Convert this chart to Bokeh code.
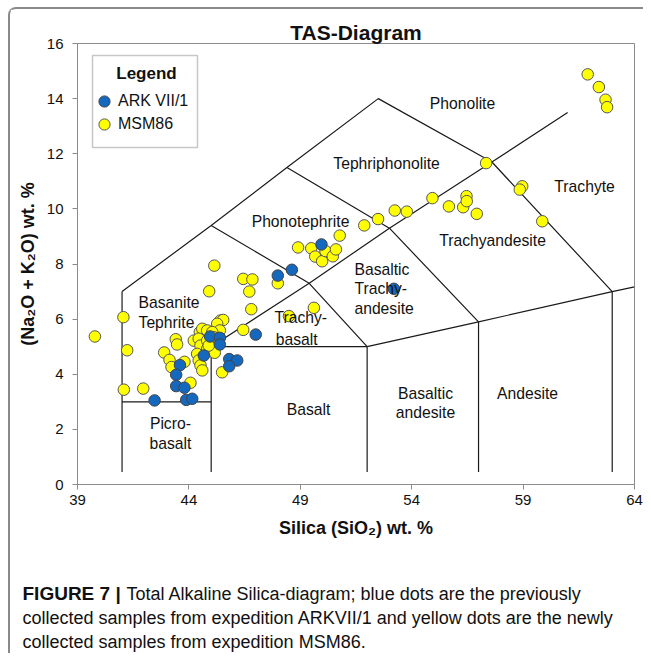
from bokeh.plotting import figure
from bokeh.layouts import column
from bokeh.models import (Label, Legend, LegendItem, Range1d, FixedTicker,
                          BoxAnnotation)
from bokeh.core.properties import value
from bokeh.embed import file_html
from bokeh.resources import INLINE

# ---------------- data ----------------
x_ticks = [39, 44, 49, 54, 59, 64]
y_ticks = [0, 2, 4, 6, 8, 10, 12, 14, 16]

ark_x = [44.95, 45.39, 45.39, 44.67, 47.00, 45.81, 46.17, 45.81, 43.60, 43.43,
         43.43, 43.80, 42.46, 43.88, 44.15, 49.95, 48.62, 47.99, 53.20]
ark_y = [5.37, 5.32, 5.08, 4.68, 5.44, 4.55, 4.50, 4.29, 4.33, 3.98,
         3.57, 3.51, 3.05, 3.07, 3.11, 8.71, 7.79, 7.58, 7.10]

msm_x = [39.78, 41.06, 41.23, 41.08, 41.95, 45.14, 44.91, 43.41, 43.47, 42.89,
         43.13, 43.22, 43.80, 44.07, 46.44, 46.85, 46.71, 46.80, 46.44, 45.49,
         45.42, 45.54, 45.27, 45.39, 44.49, 44.60, 44.82, 45.05, 44.22, 44.44,
         44.52, 44.82, 45.12, 45.27, 44.82, 45.05, 45.16, 44.37, 44.44, 44.52,
         44.60, 44.89,
         47.99, 49.61, 48.49,
         57.34, 58.96, 58.85, 59.86, 54.93, 55.67, 56.31, 56.46, 56.47, 56.92,
         53.24, 53.78, 52.49, 51.87, 50.77, 48.90, 49.49, 49.67, 49.98, 50.13,
         50.46, 50.60,
         61.90, 62.40, 62.70, 62.77]
msm_y = [5.37, 6.07, 4.87, 3.44, 3.48, 7.94, 7.01, 5.27, 5.08, 4.79,
         4.52, 4.26, 4.45, 3.69, 7.46, 7.44, 7.00, 6.36, 5.61, 4.07,
         5.95, 5.97, 5.83, 5.59, 5.53, 5.65, 5.59, 5.53, 5.22, 5.29,
         5.04, 5.22, 5.34, 5.29, 4.92, 4.98, 4.78, 4.74, 4.50, 4.32,
         4.14, 5.04,
         7.30, 6.41, 6.11,
         11.66, 10.82, 10.70, 9.55, 10.39, 10.09, 10.06, 10.46, 10.28, 9.82,
         9.94, 9.90, 9.63, 9.40, 9.03, 8.60, 8.57, 8.27, 8.10, 8.47,
         8.28, 8.53,
         14.88, 14.42, 13.96, 13.69]

# TAS field boundaries (Le Bas et al.)
tas_xs = [[41, 41], [41, 45], [45, 45], [45, 52], [52, 52],
          [52, 57, 63, 64], [57, 57], [63, 63],
          [45, 49.4, 53, 57.6, 61],
          [52, 49.4, 45],
          [41, 45, 48.4, 52.5, 57.6, 63],
          [57, 53, 48.4]]
tas_ys = [[0.45, 7], [3, 3], [0.45, 5], [5, 5], [0.45, 5],
          [5, 5.9, 7, 7.17], [0.45, 5.9], [0.45, 7],
          [5, 7.3, 9.3, 11.7, 13.5],
          [5, 7.3, 9.4],
          [7, 9.4, 11.5, 14, 11.7, 7],
          [5.9, 9.3, 11.5]]

field_text = ["Phonolite", "Tephriphonolite", "Trachyte", "Phonotephrite",
              "Trachyandesite", "Basaltic", "Trachy-", "andesite",
              "Basanite", "Tephrite", "Trachy-", "basalt", "Picro-", "basalt",
              "Basalt", "Basaltic", "andesite", "Andesite"]
field_x = [56.28, 52.87, 61.76, 49.01, 57.63, 51.43, 51.43, 51.43,
           41.74, 41.74, 47.84, 47.90, 43.17, 43.17,
           49.37, 54.62, 54.62, 59.20]
field_y = [13.82, 11.65, 10.81, 9.55, 8.85, 7.80, 7.11, 6.39,
           6.60, 5.88, 6.06, 5.26, 2.21, 1.49,
           2.72, 3.30, 2.61, 3.30]
field_align = ["center"] * 5 + ["left"] * 7 + ["center"] * 6

caption_bold = "FIGURE 7 |"
caption_lines = ["Total Alkaline Silica-diagram; blue dots are the previously",
                 "collected samples from expedition ARKVII/1 and yellow dots are the newly",
                 "collected samples from expedition MSM86."]

FONT = "Liberation Sans"
GRAY = "#8c8c8c"
W = 633

# ---------------- main figure ----------------
p = figure(width=W, height=540, output_backend="svg", toolbar_location=None,
           x_range=Range1d(39, 64), y_range=Range1d(0, 16),
           min_border_left=67, min_border_right=9, min_border_top=34,
           min_border_bottom=65, title="TAS-Diagram")
p.frame_align = False
p.background_fill_color = "white"
p.border_fill_color = "white"
p.outline_line_color = GRAY
p.outline_line_width = 1
p.xgrid.visible = False
p.ygrid.visible = False

p.title.text_font = FONT
p.title.text_font_size = "21px"
p.title.text_font_style = "bold"
p.title.align = "center"
p.title.text_color = "#111111"
p.title.standoff = 0

p.xaxis.ticker = FixedTicker(ticks=x_ticks)
p.yaxis.ticker = FixedTicker(ticks=y_ticks)
for ax in (p.xaxis, p.yaxis):
    ax.axis_line_color = GRAY
    ax.major_tick_line_color = GRAY
    ax.minor_tick_line_color = None
    ax.major_tick_out = 5
    ax.major_tick_in = 0
    ax.major_label_text_font = FONT
    ax.major_label_text_font_size = "15px"
    ax.major_label_text_color = "#111111"
    ax.axis_label_text_font = FONT
    ax.axis_label_text_font_size = "18px"
    ax.axis_label_text_font_style = "bold"
    ax.axis_label_text_color = "#111111"
p.xaxis.major_label_standoff = 5
p.yaxis.major_label_standoff = 9
p.xaxis.axis_label = "Silica (SiO\u2082) wt. %"
p.yaxis.axis_label = "(Na\u2082O + K\u2082O) wt. %"
p.xaxis.axis_label_standoff = 10
p.yaxis.axis_label_standoff = 6

# field boundaries
p.multi_line(tas_xs, tas_ys, line_color="#1a1a1a", line_width=1.2)

for t, fx, fy, al in zip(field_text, field_x, field_y, field_align):
    p.add_layout(Label(x=fx, y=fy, text=t, text_align=al, text_baseline="middle",
                       text_font=FONT, text_font_size="15.7px", text_color="#111111"))

# samples
r_msm = p.scatter(msm_x, msm_y, size=11.5, fill_color="#FFFF00",
                  line_color="#555555", line_width=1)
r_ark = p.scatter(ark_x, ark_y, size=11.5, fill_color="#1468BE",
                  line_color="#444444", line_width=1)

# legend box
box = BoxAnnotation(left=15, right=120, top=429, bottom=337,
                    left_units="screen", right_units="screen",
                    top_units="screen", bottom_units="screen",
                    fill_color="white", fill_alpha=1.0,
                    line_color="#444444", line_width=1.5)
p.add_layout(box)
p.add_layout(Label(x=69, y=411, x_units="screen", y_units="screen",
                   text="Legend", text_align="center", text_baseline="middle",
                   text_font=FONT, text_font_size="17px", text_font_style="bold",
                   text_color="#111111"))

for item_label, rend, row_top in (("ARK VII/1", r_ark, 368), ("MSM86", r_msm, 345)):
    lg = Legend(items=[LegendItem(label=item_label, renderers=[rend])],
                location=(13, row_top), padding=0, spacing=0, margin=0,
                glyph_width=28, glyph_height=30, label_standoff=0,
                label_text_font=FONT, label_text_font_size="16px",
                label_text_color="#111111",
                border_line_color=None, background_fill_alpha=0)
    p.add_layout(lg)

# ---------------- caption ----------------
cap = figure(width=W, height=104, output_backend="svg", toolbar_location=None,
             x_range=Range1d(0, W), y_range=Range1d(104, 0),
             x_axis_type=None, y_axis_type=None,
             min_border_left=0, min_border_right=0, min_border_top=0,
             min_border_bottom=0)
cap.frame_align = False
cap.outline_line_color = None
cap.xgrid.visible = False
cap.ygrid.visible = False
cap.background_fill_color = "white"
cap.border_fill_color = "white"

cap.text(x=[12], y=[44], text=[caption_bold], text_baseline="middle",
         text_font=value(FONT), text_font_size="19px", text_font_style="bold",
         text_color="#111111")
cap.text(x=[116, 12, 12], y=[44, 68, 92], text=caption_lines,
         text_baseline="middle", text_font=value(FONT), text_font_size="18px",
         text_color="#111111")

layout = column(p, cap, margin=(7, 0, 0, 8), spacing=0,
                styles={"border-left": "2px solid #8a8a8a",
                        "border-top": "2px solid #8a8a8a",
                        "border-top-left-radius": "8px"})

open("out.html", "w").write(file_html(layout, INLINE))
